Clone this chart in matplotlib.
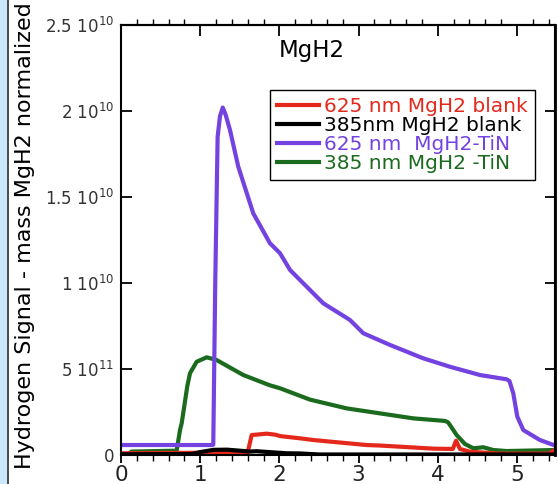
import numpy as np
import matplotlib
matplotlib.use('Agg')
import matplotlib.pyplot as plt
from matplotlib.ticker import MultipleLocator, NullFormatter
from matplotlib.patches import Rectangle
from matplotlib.lines import Line2D


##################################################################################
# data: time vs. hydrogen signal (mass normalized), signal in units of 1e10
##################################################################################
red_x = [0.0, 1.60, 1.65, 1.70, 1.84, 1.95, 2.008, 2.26, 2.43, 3.10, 3.27, 3.94,
         4.19, 4.23, 4.28, 4.41, 4.78, 5.40, 5.48]
red_y = [0.010, 0.015, 0.116, 0.118, 0.124, 0.118, 0.110, 0.097, 0.087, 0.058, 0.055, 0.037,
         0.035, 0.083, 0.035, 0.019, 0.008, 0.008, 0.030]

black_x = [0.0, 0.90, 1.00, 1.17, 1.34, 1.63, 1.71, 2.09, 2.26, 2.50, 5.48]
black_y = [0.004, 0.006, 0.017, 0.030, 0.031, 0.020, 0.022, 0.010, 0.009, 0.003, 0.003]

purple_x = [0.0, 1.15, 1.165, 1.19, 1.22, 1.25, 1.285, 1.32, 1.376, 1.481, 1.670, 1.881,
            2.008, 2.134, 2.218, 2.554, 2.891, 3.059, 3.396, 3.817, 4.154, 4.533, 4.870,
            4.905, 4.953, 5.004, 5.080, 5.290, 5.500]
purple_y = [0.058, 0.058, 0.060, 1.00, 1.85, 1.97, 2.02, 1.98, 1.89, 1.676, 1.405, 1.231,
            1.173, 1.076, 1.037, 0.882, 0.785, 0.708, 0.640, 0.562, 0.513, 0.465, 0.440,
            0.430, 0.359, 0.223, 0.145, 0.087, 0.052]

green_x = [0.10, 0.13, 0.703, 0.745, 0.766, 0.837, 0.871, 0.955, 1.082, 1.208, 1.544, 1.881,
           2.008, 2.386, 2.850, 3.270, 3.691, 4.091, 4.13, 4.154, 4.238, 4.343, 4.449,
           4.575, 4.70, 4.87, 5.48]
green_y = [0.0, 0.020, 0.025, 0.145, 0.184, 0.400, 0.475, 0.542, 0.568, 0.552, 0.465, 0.405,
           0.388, 0.322, 0.271, 0.242, 0.213, 0.198, 0.190, 0.174, 0.116, 0.064, 0.039,
           0.045, 0.029, 0.023, 0.029]

labels = ['625 nm MgH2 blank', '385nm MgH2 blank', '625 nm  MgH2-TiN', '385 nm MgH2 -TiN']
colors = ['#e5281c', '#000000', '#7342e0', '#1b6b1f']

x_ticks = [0, 1, 2, 3, 4, 5]
y_ticks = [0, 0.5e10, 1e10, 1.5e10, 2e10, 2.5e10]
y_ticklabels = ['0', r'5 10$^{11}$', r'1 10$^{10}$', r'1.5 10$^{10}$', r'2 10$^{10}$',
                r'2.5 10$^{10}$']


##################################################################################
# figure
##################################################################################
plt.rcParams['font.family'] = 'DejaVu Sans'
W, H = 558, 484
fig = plt.figure(figsize=(W / 100, H / 100), dpi=100)
ax = fig.add_axes([121 / W, 1 - 455 / H, 434 / W, 430 / H])

# light blue strip on the left edge
fig.add_artist(Rectangle((0, 0), 7 / W, 1, transform=fig.transFigure,
                         facecolor='#c9e8fa', edgecolor='none'))
fig.add_artist(Line2D([7.5 / W, 7.5 / W], [0, 1], transform=fig.transFigure,
                      color='#2a2a2a', lw=1.2))

series = [(red_x, red_y), (black_x, black_y), (purple_x, purple_y), (green_x, green_y)]
lines = []
for (x, y), c in zip(series, colors):
    l, = ax.plot(x, np.array(y) * 1e10, color=c, lw=3, solid_joinstyle='round')
    lines.append(l)
# drawing order: green under the others, purple on top
lines[3].set_zorder(1.8)
lines[2].set_zorder(2.2)

ax.set_xlim(0, 5.48)
ax.set_ylim(0, 2.5e10)

for s in ax.spines.values():
    s.set_linewidth(1.5)

ax.set_xticks(x_ticks)
ax.xaxis.set_minor_locator(MultipleLocator(0.2))
ax.tick_params(axis='x', which='major', direction='out', length=6, width=1.3,
               labelsize=15.5, pad=1.5, labelcolor='#222222')
ax.tick_params(axis='x', which='minor', direction='out', length=4, width=1)
ax.set_yticks(y_ticks)
ax.set_yticklabels(y_ticklabels)
ax.tick_params(axis='y', which='major', direction='in', length=8, width=1.3,
               labelsize=12, pad=5, labelcolor='#333333')

top = ax.secondary_xaxis('top')
top.set_xticks(x_ticks)
top.xaxis.set_minor_locator(MultipleLocator(0.2))
top.xaxis.set_major_formatter(NullFormatter())
top.tick_params(which='major', direction='in', length=8, width=1.3)
top.tick_params(which='minor', direction='out', length=4, width=1)
top.spines['top'].set_linewidth(1.5)

right = ax.secondary_yaxis('right')
right.set_yticks(y_ticks)
right.yaxis.set_major_formatter(NullFormatter())
right.tick_params(which='major', direction='in', length=7, width=1.3)
right.spines['right'].set_linewidth(2)

ax.text(0.44, 0.926, 'MgH2', transform=ax.transAxes, ha='center', va='baseline',
        fontsize=16.5)
fig.text(25 / W, 1 - 236 / H, 'Hydrogen Signal - mass MgH2 normalized', rotation=90,
         ha='center', va='center', fontsize=16)

leg = ax.legend(lines, labels, loc='upper left', bbox_to_anchor=(0.343, 0.849),
                fontsize=14.5, fancybox=False, edgecolor='black', framealpha=1,
                borderpad=0.35, labelspacing=0.0, handlelength=2.1, handletextpad=0.25,
                borderaxespad=0)
leg.get_frame().set_linewidth(1.0)
for t, c in zip(leg.get_texts(), colors):
    t.set_color(c)

fig.savefig('out.png', dpi=100)
